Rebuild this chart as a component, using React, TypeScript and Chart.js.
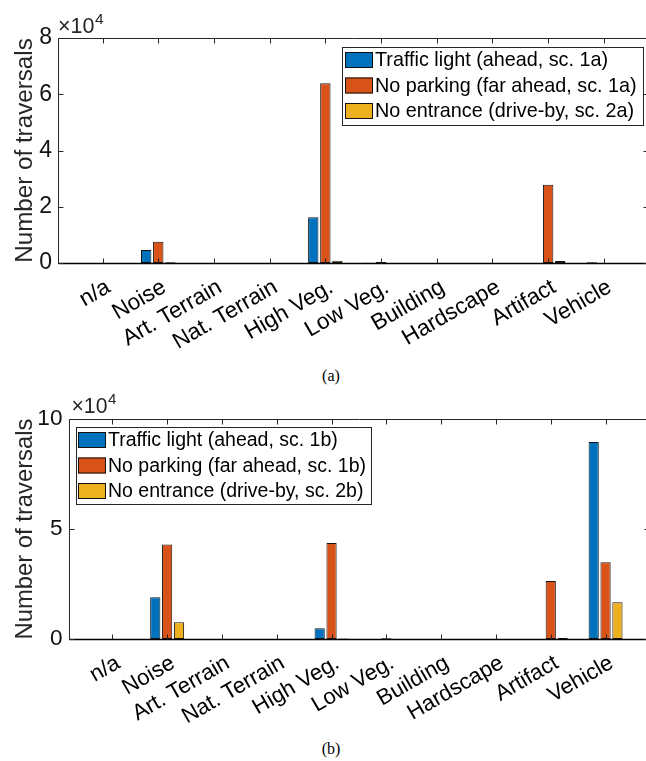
import React, { useEffect, useRef } from 'react';
import { Chart, registerables } from 'chart.js';

Chart.register(...registerables);

// ---------------- data ----------------
const categories = ['n/a', 'Noise', 'Art. Terrain', 'Nat. Terrain', 'High Veg.', 'Low Veg.', 'Building', 'Hardscape', 'Artifact', 'Vehicle'];

const labelsA = ['Traffic light (ahead, sc. 1a)', 'No parking (far ahead, sc. 1a)', 'No entrance (drive-by, sc. 2a)'];
const trafficA = [0, 4600, 0, 0, 16300, 100, 0, 0, 0, 300];
const parkingA = [0, 7600, 0, 0, 63900, 400, 0, 0, 27800, 0];
const entranceA = [0, 250, 0, 0, 800, 0, 0, 0, 700, 0];
const yTicksA = [0, 20000, 40000, 60000, 80000];

const labelsB = ['Traffic light (ahead, sc. 1b)', 'No parking (far ahead, sc. 1b)', 'No entrance (drive-by, sc. 2b)'];
const trafficB = [0, 19000, 0, 0, 4900, 0, 0, 0, 0, 89500];
const parkingB = [0, 43000, 0, 0, 43600, 300, 0, 0, 26400, 34900];
const entranceB = [0, 7600, 0, 0, 200, 0, 0, 0, 500, 16700];
const yTicksB = [0, 50000, 100000];

const yTitle = 'Number of traversals';

// ---------------- style ----------------
const COLORS = ['#0072BD', '#D95319', '#EDB120'];
const AXIS = '#262626';
const FONT = "'Liberation Sans', Arial, Helvetica, sans-serif";
const CANVAS_W = 662;

type PlotCfg = {
  canvasTop: number;
  canvasH: number;
  areaLeft: number;
  areaTop: number;
  areaBottom: number;
  areaRight: number;
  yMax: number;
  yTicks: number[];
  labels: string[];
  series: number[][];
  tickFont: number;
  titleFont: number;
  legendFont: number;
  expFont: number;
  expSupFont: number;
  expDx: number;
  expDy: number;
  legend: { x: number; y: number; w: number; h: number; sw: number; tx: number };
};

const plotA: PlotCfg = {
  canvasTop: 0,
  canvasH: 350,
  areaLeft: 58,
  areaTop: 38,
  areaBottom: 263,
  areaRight: 648.4,
  yMax: 80000,
  yTicks: yTicksA,
  labels: labelsA,
  series: [trafficA, parkingA, entranceA],
  tickFont: 22.5,
  titleFont: 24.2,
  legendFont: 19.8,
  expFont: 21.5,
  expSupFont: 15.5,
  expDx: 0,
  expDy: -5,
  legend: { x: 342, y: 47, w: 301, h: 78, sw: 3, tx: 33 },
};

const plotB: PlotCfg = {
  canvasTop: 388,
  canvasH: 340,
  areaLeft: 68.5,
  areaTop: 419,
  areaBottom: 639,
  areaRight: 649.4,
  yMax: 100000,
  yTicks: yTicksB,
  labels: labelsB,
  series: [trafficB, parkingB, entranceB],
  tickFont: 22.1,
  titleFont: 23.8,
  legendFont: 19.5,
  expFont: 21.2,
  expSupFont: 15.2,
  expDx: 3,
  expDy: -6,
  legend: { x: 76, y: 427, w: 295, h: 77, sw: 2, tx: 32 },
};

function makeDecor(cfg: PlotCfg) {
  return {
    id: 'decor',
    afterDatasetsDraw(chart: any) {
      const { ctx, chartArea: ca, scales } = chart;
      const xs = scales.x;
      const ys = scales.y;
      ctx.save();
      const L = Math.round(ca.left) + 0.5;
      const R = Math.round(ca.right) + 0.5;
      const T = Math.round(ca.top) + 0.5;
      const B = Math.round(ca.bottom) + 0.5;

      // axes box
      ctx.strokeStyle = AXIS;
      ctx.lineWidth = 1;
      ctx.beginPath();
      ctx.rect(L, T, R - L, B - T);
      ctx.stroke();
      ctx.strokeStyle = '#000';
      ctx.lineWidth = 1.5;
      ctx.beginPath();
      ctx.moveTo(L, B);
      ctx.lineTo(R, B);
      ctx.stroke();

      // inward ticks
      ctx.strokeStyle = AXIS;
      ctx.lineWidth = 1;
      ctx.beginPath();
      xs.ticks.forEach((t: any) => {
        const px = Math.round(xs.getPixelForValue(t.value)) + 0.5;
        ctx.moveTo(px, B);
        ctx.lineTo(px, B - 5);
        ctx.moveTo(px, T);
        ctx.lineTo(px, T + 5);
      });
      ys.ticks.forEach((t: any) => {
        const py = Math.round(ys.getPixelForValue(t.value)) + 0.5;
        ctx.moveTo(L, py);
        ctx.lineTo(L + 5, py);
        ctx.moveTo(R, py);
        ctx.lineTo(R - 5, py);
      });
      ctx.stroke();

      // y title
      ctx.fillStyle = AXIS;
      ctx.font = `${cfg.titleFont}px ${FONT}`;
      ctx.textAlign = 'center';
      ctx.textBaseline = 'alphabetic';
      ctx.save();
      ctx.translate(31.5, (ca.top + ca.bottom) / 2);
      ctx.rotate(-Math.PI / 2);
      ctx.fillText(yTitle, 0, 0);
      ctx.restore();

      // exponent label
      ctx.textAlign = 'left';
      ctx.font = `${cfg.expFont}px ${FONT}`;
      const ex = ca.left + cfg.expDx;
      const ey = ca.top + cfg.expDy;
      const base = '\u00D710';
      ctx.fillText(base, ex, ey);
      const bw = ctx.measureText(base).width;
      ctx.font = `${cfg.expSupFont}px ${FONT}`;
      ctx.fillText('4', ex + bw + 0.5, ey - 9);

      // legend
      const lg = cfg.legend;
      const ly = lg.y - cfg.canvasTop;
      ctx.fillStyle = '#fff';
      ctx.fillRect(lg.x, ly, lg.w, lg.h);
      ctx.strokeStyle = AXIS;
      ctx.lineWidth = 1;
      ctx.strokeRect(lg.x + 0.5, ly + 0.5, lg.w, lg.h);
      ctx.font = `${cfg.legendFont}px ${FONT}`;
      ctx.textBaseline = 'middle';
      chart.data.datasets.forEach((ds: any, i: number) => {
        const cy = ly + 13 + i * 25.5;
        ctx.fillStyle = ds.backgroundColor;
        ctx.fillRect(lg.x + lg.sw, cy - 8, 28, 16);
        ctx.strokeStyle = '#111';
        ctx.strokeRect(lg.x + lg.sw + 0.5, cy - 7.5, 27, 15);
        ctx.fillStyle = '#000';
        ctx.fillText(ds.label, lg.x + lg.tx, cy + 1);
      });
      ctx.restore();
    },
  };
}

function BarPlot({ cfg }: { cfg: PlotCfg }) {
  const ref = useRef<HTMLCanvasElement | null>(null);
  useEffect(() => {
    if (!ref.current) return;
    const areaTopC = cfg.areaTop - cfg.canvasTop;
    const areaBottomC = cfg.areaBottom - cfg.canvasTop;
    const chart = new Chart(ref.current, {
      type: 'bar',
      data: {
        datasets: cfg.series.map((vals, i) => ({
          label: cfg.labels[i],
          data: vals.map((v, j) => ({ x: j + 1, y: v })),
          backgroundColor: COLORS[i],
          borderColor: '#141414',
          borderWidth: 1,
          borderSkipped: false,
          categoryPercentage: 0.65,
          barPercentage: 0.86,
        })),
      },
      options: {
        animation: false,
        responsive: false,
        maintainAspectRatio: false,
        layout: { padding: { left: 0, top: areaTopC, right: CANVAS_W - cfg.areaRight, bottom: 0 } },
        plugins: { legend: { display: false }, tooltip: { enabled: false } },
        scales: {
          x: {
            type: 'linear',
            min: 0.2,
            max: 10.8,
            offset: false,
            afterBuildTicks: (s: any) => {
              s.ticks = categories.map((_, i) => ({ value: i + 1 }));
            },
            afterFit: (s: any) => {
              s.height = cfg.canvasH - areaBottomC;
            },
            grid: { display: false, drawTicks: false, offset: false },
            border: { display: false },
            ticks: {
              autoSkip: false,
              minRotation: 30,
              maxRotation: 30,
              padding: 11,
              labelOffset: 6,
              color: '#000',
              font: { family: FONT, size: cfg.tickFont },
              callback: (v: any) => categories[Math.round(Number(v)) - 1] ?? '',
            },
          },
          y: {
            min: 0,
            max: cfg.yMax,
            afterBuildTicks: (s: any) => {
              s.ticks = cfg.yTicks.map((v) => ({ value: v }));
            },
            afterFit: (s: any) => {
              s.width = cfg.areaLeft;
            },
            grid: { display: false, drawTicks: false },
            border: { display: false },
            ticks: {
              padding: 6,
              color: '#111',
              font: { family: FONT, size: cfg.tickFont + 0.5 },
              callback: (v: any) => String(Number(v) / 10000),
            },
          },
        },
      } as any,
      plugins: [makeDecor(cfg)],
    });
    return () => chart.destroy();
  }, [cfg]);
  return (
    <canvas
      ref={ref}
      width={CANVAS_W}
      height={cfg.canvasH}
      style={{ position: 'absolute', left: 0, top: cfg.canvasTop, width: CANVAS_W, height: cfg.canvasH }}
    />
  );
}

const captionStyle: React.CSSProperties = {
  position: 'absolute',
  left: 281,
  width: 100,
  textAlign: 'center',
  fontFamily: "'Liberation Serif', 'DejaVu Serif', serif",
  fontSize: 16,
  lineHeight: '18px',
  color: '#000',
};

export default function App() {
  return (
    <div style={{ position: 'fixed', left: 0, top: 0, width: 646, height: 761, overflow: 'hidden', background: '#fff' }}>
      <BarPlot cfg={plotA} />
      <BarPlot cfg={plotB} />
      <div style={{ ...captionStyle, top: 367 }}>(a)</div>
      <div style={{ ...captionStyle, top: 740 }}>(b)</div>
    </div>
  );
}
